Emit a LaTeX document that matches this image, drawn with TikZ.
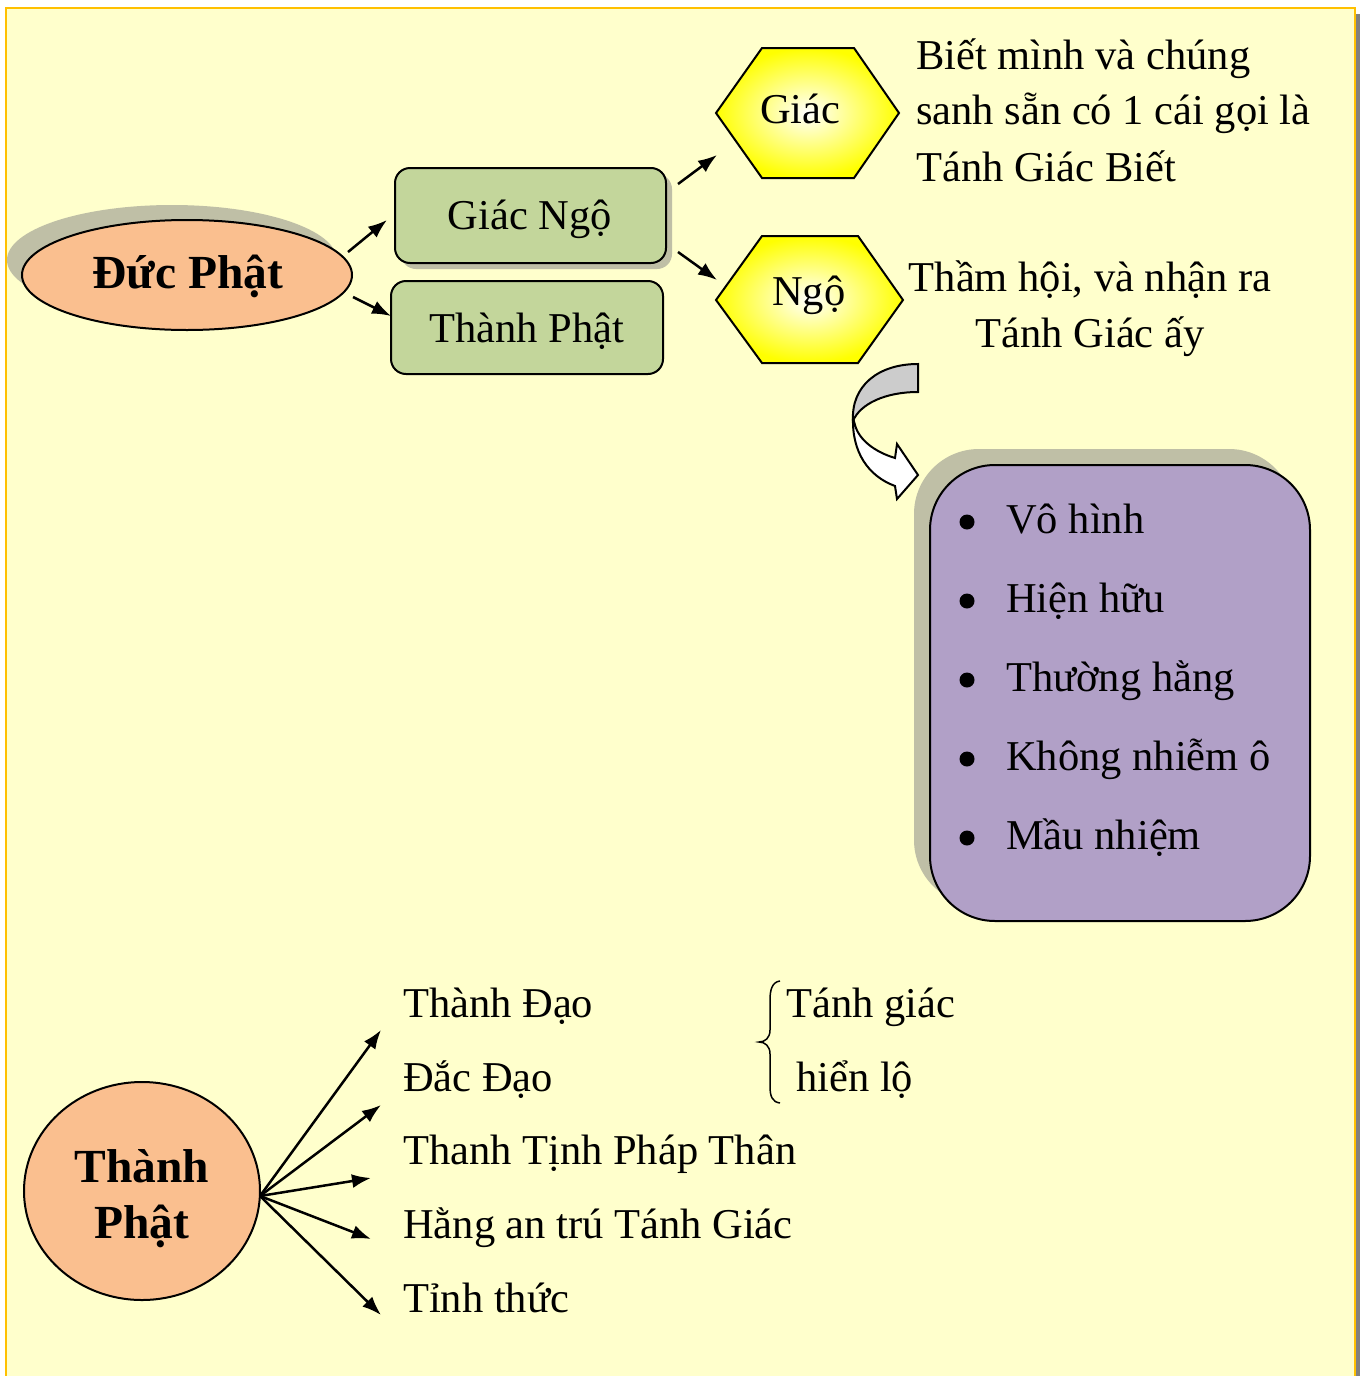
\documentclass[tikz,border=0pt]{standalone}
\usepackage{fontspec}
\setmainfont{Liberation Serif}
\usetikzlibrary{shapes.geometric,arrows.meta}
\definecolor{panel}{RGB}{255,255,204}
\definecolor{framec}{RGB}{255,192,0}
\definecolor{shadowc}{RGB}{191,191,166}
\definecolor{peach}{RGB}{250,191,143}
\definecolor{greenbox}{RGB}{195,214,155}
\definecolor{purplebox}{RGB}{177,160,199}
\definecolor{ribbongray}{RGB}{204,204,204}
\begin{document}
\begin{tikzpicture}[x=1pt,y=-1pt,
  txt/.style={font=\fontsize{42.5}{50}\selectfont, inner sep=0pt, anchor=base west},
  ctxt/.style={font=\fontsize{42.5}{50}\selectfont, inner sep=0pt, anchor=base},
  btxt/.style={font=\fontsize{47.5}{55}\selectfont\bfseries, inner sep=0pt, anchor=base},
  outline/.style={draw=black, line width=2pt},
  arr/.style={line width=2.5pt, -{Latex[length=19pt,width=14pt]}},
  bul/.style={fill=black}]
\useasboundingbox (0,0) rectangle (1360,1376);
\fill[white] (0,0) rectangle (1360,1376);
\fill[black!50] (1356,14) rectangle (1360,1376);
\filldraw[fill=panel, draw=framec, line width=2.5pt] (6,8) rectangle (1355,1400);

% Duc Phat ellipse
\node[ellipse, fill=shadowc, minimum width=330pt, minimum height=110pt, inner sep=0pt] (ducsh) at (172,260) {};
\node[ellipse, outline, fill=peach, minimum width=330pt, minimum height=110pt, inner sep=0pt] (duc) at (187,275) {};
\node[btxt] (ductxt) at (188,288) {Đức Phật};

% green boxes
\fill[shadowc, rounded corners=15pt] (401,174) rectangle (672,269);
\node[outline, fill=greenbox, rounded corners=15pt, minimum width=271pt, minimum height=95pt, inner sep=0pt] (gn) at (530.5,215.5) {};
\node[ctxt] (gntxt) at (530,229) {Giác Ngộ};
\node[outline, fill=greenbox, rounded corners=15pt, minimum width=272pt, minimum height=93pt, inner sep=0pt] (tp1) at (527,327.5) {};
\node[ctxt] (tp1txt) at (527,342) {Thành Phật};

% arrows from Duc Phat
\coordinate (a1s) at (348,252); \coordinate (a1e) at (387,220);
\coordinate (a2s) at (353,297); \coordinate (a2e) at (391,316);
\draw[arr] (a1s) -- (a1e);
\draw[arr] (a2s) -- (a2e);

% hexagons
\shadedraw[inner color=white, outer color=yellow, outline] (716,113) -- (762,48) -- (854,48) -- (899,113) -- (854,178) -- (762,178) -- cycle;
\node[minimum width=183pt, minimum height=130pt, inner sep=0pt] (hexg) at (807.5,113) {};
\node[txt] (giactxt) at (760,123) {Giác};
\shadedraw[inner color=white, outer color=yellow, outline] (716,300) -- (762,236) -- (858,236) -- (903,300) -- (858,363) -- (762,363) -- cycle;
\node[minimum width=187pt, minimum height=127pt, inner sep=0pt] (hexn) at (809.5,300) {};
\node[txt] (ngotxt) at (772,305) {Ngộ};

\coordinate (a3s) at (678,184); \coordinate (a3e) at (717,155);
\coordinate (a4s) at (678,252); \coordinate (a4e) at (717,280);
\draw[arr] (a3s) -- (a3e);
\draw[arr] (a4s) -- (a4e);

% descriptions
\node[txt] (b1) at (916,69) {Biết mình và chúng};
\node[txt] (b2) at (916,124) {sanh sẵn có 1 cái gọi là};
\node[txt] (b3) at (916,181) {Tánh Giác Biết};
\node[ctxt] (n1) at (1090,291) {Thầm hội, và nhận ra};
\node[ctxt] (n2) at (1090,347) {Tánh Giác ấy};

% curved ribbon arrow
\filldraw[fill=white, outline] (853,418) .. controls (852,452) and (868,476) .. (895,486) -- (897,499) -- (918,475) -- (897,444) -- (895,458) .. controls (875,452) and (859,440) .. (855,425) -- cycle;
\filldraw[fill=ribbongray, outline] (918,364) .. controls (878,364) and (851,386) .. (853,421) .. controls (860,404) and (885,392) .. (918,392) -- cycle;

% purple box
\fill[shadowc, rounded corners=65pt] (914,449) rectangle (1294,905);
\node[outline, fill=purplebox, rounded corners=65pt, minimum width=380pt, minimum height=456pt, inner sep=0pt] (pb) at (1120,693) {};
\fill[bul] (967,522) circle (7.5);
\fill[bul] (967,601) circle (7.5);
\fill[bul] (967,680) circle (7.5);
\fill[bul] (967,759) circle (7.5);
\fill[bul] (967,838) circle (7.5);
\node[txt] (p1) at (1006,533) {Vô hình};
\node[txt] (p2) at (1006,612) {Hiện hữu};
\node[txt] (p3) at (1006,691) {Thường hằng};
\node[txt] (p4) at (1006,770) {Không nhiễm ô};
\node[txt] (p5) at (1006,849) {Mầu nhiệm};

% Thanh Phat circle
\node[ellipse, outline, fill=peach, minimum width=236pt, minimum height=218pt, inner sep=0pt] (tp2) at (142,1191) {};
\node[btxt] (tp2a) at (142,1182) {Thành};
\node[btxt] (tp2b) at (142,1238) {Phật};

\node[txt] (q1) at (403,1017) {Thành Đạo};
\node[txt] (q2) at (403,1091) {Đắc Đạo};
\node[txt] (q3) at (403,1164) {Thanh Tịnh Pháp Thân};
\node[txt] (q4) at (403,1238) {Hằng an trú Tánh Giác};
\node[txt] (q5) at (403,1312) {Tỉnh thức};

\coordinate (o) at (260,1196);
\coordinate (e1) at (381,1030);
\coordinate (e2) at (381,1105);
\coordinate (e3) at (371,1178);
\coordinate (e4) at (371,1239);
\coordinate (e5) at (381,1315);
\foreach \e in {e1,e2,e3,e4,e5} \draw[arr] (o) -- (\e);

% brace
\draw[line width=1.5pt] (780,981) .. controls (772,982) and (770,990) .. (770,1000) -- (770,1030) .. controls (770,1038) and (765,1042) .. (759,1042) .. controls (765,1042) and (770,1046) .. (770,1054) -- (770,1086) .. controls (770,1096) and (772,1102) .. (780,1103);
\node[txt] (r1) at (786,1017) {Tánh giác};
\node[txt] (r2) at (796,1091) {hiển lộ};
\end{tikzpicture}
\end{document}
